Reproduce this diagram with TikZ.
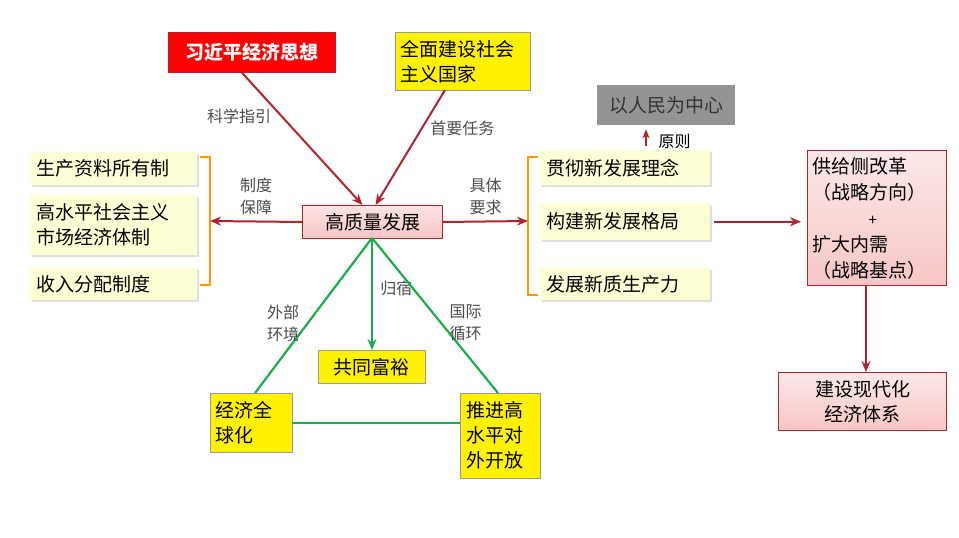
\documentclass[tikz,border=0pt]{standalone}
\usepackage{fontspec}
\setmainfont{Noto Sans CJK SC}
\usetikzlibrary{arrows.meta,shadows,calc}
\definecolor{dred}{HTML}{B0242C}
\definecolor{lyel}{HTML}{FFFFD6}
\definecolor{gline}{HTML}{1AAE4A}
\definecolor{pinkf}{HTML}{F7C6C6}
\tikzset{
 bx/.style={draw=none,fill=lyel,drop shadow={opacity=.25,shadow xshift=2pt,shadow yshift=-2pt},font=\fontsize{19}{25}\selectfont,align=left,inner sep=0pt,anchor=north west},
 yb/.style={fill=yellow,draw=black!40,font=\fontsize{19}{25}\selectfont,align=left,inner sep=0pt,anchor=north west},
 pk/.style={fill=pinkf,draw=dred,line width=1pt,font=\fontsize{19}{25}\selectfont,align=center,inner sep=0pt,anchor=north west},
 lab/.style={font=\fontsize{16}{22}\selectfont,text=black!70,align=center},
 rarr/.style={draw=dred,line width=2pt,-{Stealth[length=11pt,width=9pt]}},
 garr/.style={draw=gline,line width=2.2pt},
 brk/.style={draw=orange!80!yellow,line width=2pt}
}
\begin{document}
\begin{tikzpicture}[x=1pt,y=-1pt]
\useasboundingbox (0,0) rectangle (959,538);
\node[fill=red,draw=dred,text=white,font=\fontsize{19}{25}\selectfont\bfseries,minimum width=167pt,minimum height=40pt,inner sep=0pt,anchor=north west] (xj) at (168,32) {习近平经济思想};
\node[yb,minimum width=135pt,minimum height=58pt,text width=125pt] (qm) at (395,32) {全面建设社会\\主义国家};
\node[fill=black!42,font=\fontsize{19}{25}\selectfont,text=black!80,minimum width=138pt,minimum height=40pt,inner sep=0pt,anchor=north west] (rm) at (597,85) {以人民为中心};
\coordinate (rz) at (646,146);
\draw[rarr,-{Stealth[length=9pt,width=7pt]}] (rz) -- ($(rm.south -| rz)+(0,4)$);
\node[lab,text=black,anchor=west] (yz) at (655,141) {原则};
\node[pk,minimum width=140pt,minimum height=33pt,top color=pinkf!50,bottom color=pinkf] (c) at (302,205) {高质量发展};
\draw[rarr] ($(xj.south)+(-10,0)$) -- node[lab,pos=.33,left=6pt] (l1){科学指引} ($(c.north)+(-10,0)$);
\draw[rarr] (445,90) -- node[lab,pos=.33,right=4pt] (l2){首要任务} ($(c.north)+(3,0)$);
\node[bx,minimum width=167pt,minimum height=33pt,text width=155pt] (a1) at (30,152) {生产资料所有制};
\node[bx,minimum width=167pt,minimum height=60pt,text width=155pt] (a2) at (30,195) {高水平社会主义\\市场经济体制};
\node[bx,minimum width=167pt,minimum height=32pt,text width=155pt] (a3) at (30,268) {收入分配制度};
\draw[brk] (200,157) -- (210,157) -- (210,285) -- (200,285);
\coordinate (lb) at (210,221);
\draw[rarr] (c.west) -- node[lab,above=2pt] (l3){制度\\保障} (lb);
\coordinate (rb) at (528,221);
\draw[brk] (538,157) -- (528,157) -- (528,295) -- (538,295);
\draw[rarr] (c.east) -- node[lab,above=2pt] (l4){具体\\要求} (rb);
\node[bx,minimum width=170pt,minimum height=35pt,text width=158pt] (b1) at (540,150) {贯彻新发展理念};
\node[bx,minimum width=170pt,minimum height=37pt,text width=158pt] (b2) at (540,203) {构建新发展格局};
\node[bx,minimum width=170pt,minimum height=32pt,text width=158pt] (b3) at (540,268) {发展新质生产力};
\node[pk,minimum width=139pt,minimum height=135pt,top color=pinkf!40,bottom color=pinkf,align=left,text width=129pt,font=\fontsize{19}{26}\selectfont] (gj) at (807,150) {供给侧改革\\（战略方向）\\\hspace*{56pt}{\fontsize{15}{18}\selectfont+}\\扩大内需\\（战略基点）};
\draw[rarr] ($(b2.east)+(4,0)$) -- ($(gj.west |- b2.east)+(-6,0)$);
\node[pk,minimum width=168pt,minimum height=58pt,top color=pinkf!40,bottom color=pinkf] (xd) at (778,372) {建设现代化\\经济体系};
\coordinate (vx) at (866,0);
\draw[rarr] (gj.south -| vx) -- (xd.north -| vx);
\node[yb,minimum width=107pt,minimum height=33pt,align=center] (gt) at (318,350) {共同富裕};
\node[yb,minimum width=82pt,minimum height=59pt,text width=72pt] (jj) at (210,393) {经济全\\球化};
\node[yb,minimum width=80pt,minimum height=85pt,text width=68pt] (tj) at (460,393) {推进高\\水平对\\外开放};
\coordinate (cb) at (372,238);
\draw[garr,-{Stealth[length=11pt,width=9pt]}] (cb) -- node[lab,pos=.45,right=4pt] (l5){归宿} (gt.north -| cb);
\draw[garr] (cb) -- node[lab,pos=.55,left=4pt] (l6){外部\\环境} (255,393);
\draw[garr] (cb) -- node[lab,pos=.55,right=4pt] (l7){国际\\循环} (498,393);
\draw[garr] (jj.east) -- (tj.west |- jj.east);
\end{tikzpicture}
\end{document}
